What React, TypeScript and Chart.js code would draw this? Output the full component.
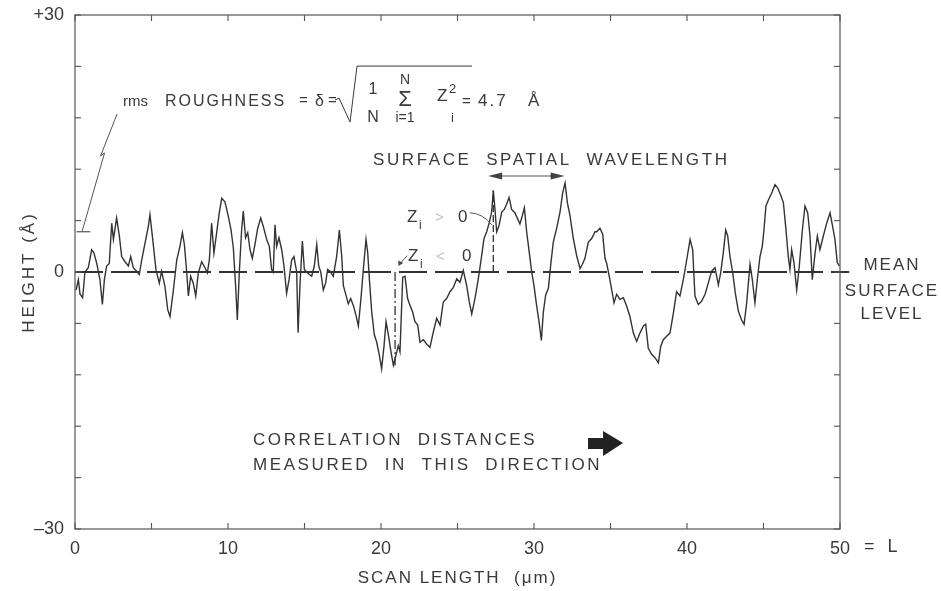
import React, { useEffect, useRef } from 'react';
import { Chart, registerables } from 'chart.js';

Chart.register(...registerables);

// ---------- data ----------
// scan position along the surface (µm)
const scanX: number[] = [
  0.07, 0.22, 0.33, 0.5, 0.65, 0.87, 1.09, 1.24, 1.42, 1.63, 1.79, 1.92, 2.07, 2.24, 2.4, 2.51, 2.72, 2.9, 3.05, 3.27,
  3.49, 3.64, 3.81, 4.03, 4.2, 4.36, 4.58, 4.79, 4.9, 5.08, 5.29, 5.51, 5.66, 5.88, 6.06, 6.21, 6.43, 6.65, 6.86, 7.02,
  7.15, 7.3, 7.41, 7.56, 7.73, 7.89, 8.06, 8.28, 8.5, 8.65, 8.78, 8.93, 9.08, 9.26, 9.43, 9.59, 9.8, 10.02, 10.2, 10.35,
  10.5, 10.61, 10.74, 10.89, 11.0, 11.15, 11.29, 11.44, 11.59, 11.76, 11.94, 12.14, 12.31, 12.53, 12.7, 12.85, 12.96, 13.07, 13.18, 13.33,
  13.51, 13.66, 13.83, 13.99, 14.16, 14.31, 14.49, 14.58, 14.71, 14.86, 14.99, 15.14, 15.32, 15.47, 15.64, 15.8, 15.93, 16.06, 16.23, 16.38,
  16.51, 16.67, 16.88, 17.1, 17.28, 17.43, 17.54, 17.71, 17.86, 18.02, 18.19, 18.37, 18.52, 18.69, 18.85, 19.02, 19.13, 19.24, 19.39, 19.56,
  19.72, 19.89, 20.04, 20.2, 20.33, 20.48, 20.65, 20.81, 21.13, 21.24, 21.42, 21.57, 21.74, 21.9, 22.07, 22.22, 22.4, 22.55, 22.77, 22.98,
  23.2, 23.42, 23.64, 23.86, 24.07, 24.29, 24.51, 24.73, 24.95, 25.16, 25.38, 25.6, 25.77, 25.93, 26.14, 26.36, 26.58, 26.73, 26.91, 27.08,
  27.23, 27.34, 27.45, 27.56, 27.71, 27.89, 28.06, 28.21, 28.37, 28.54, 28.76, 28.93, 29.08, 29.24, 29.37, 29.52, 29.69, 29.85, 30.0, 30.17,
  30.33, 30.48, 30.61, 30.76, 30.94, 31.09, 31.26, 31.48, 31.7, 31.87, 32.03, 32.18, 32.35, 32.57, 32.79, 33.01, 33.16, 33.33, 33.55, 33.77,
  33.99, 34.1, 34.31, 34.49, 34.64, 34.75, 34.92, 35.08, 35.23, 35.4, 35.62, 35.84, 36.06, 36.27, 36.49, 36.71, 36.93, 37.15, 37.3, 37.47,
  37.69, 37.91, 38.13, 38.28, 38.45, 38.67, 38.89, 39.11, 39.32, 39.54, 39.76, 39.98, 40.2, 40.37, 40.52, 40.74, 40.96, 41.18, 41.39, 41.61,
  41.83, 42.05, 42.2, 42.37, 42.53, 42.66, 42.81, 42.99, 43.16, 43.36, 43.57, 43.73, 43.9, 44.12, 44.27, 44.44, 44.62, 44.77, 44.92, 45.03,
  45.16, 45.32, 45.53, 45.75, 45.93, 46.12, 46.3, 46.47, 46.62, 46.73, 46.84, 46.99, 47.17, 47.34, 47.54, 47.71, 47.89, 48.04, 48.19, 48.37,
  48.52, 48.69, 48.91, 49.13, 49.35, 49.52, 49.67, 49.82, 49.97,
];

// surface height (Å)
const heightZ: number[] = [
  -2.1, -0.9, -2.6, -3.0, 0, 0.5, 2.6, 2.2, 1.0, -0.9, -3.8, -0.9, 0.7, 1.0, 5.7, 3.8, 6.3, 4.2, 1.8, 1.2,
  0.7, 1.8, 0.5, 0.1, -0.3, 1.4, 3.4, 5.3, 6.7, 3.8, 0.3, -1.3, 0.1, -1.7, -4.4, -5.2, -2.1, 1.4, 3.0, 4.6,
  3.2, 0, -2.8, -0.5, -1.3, -2.8, -0.1, 1.2, 0.5, -0.1, 1.4, 5.7, 2.2, 4.6, 6.9, 8.6, 8.2, 6.5, 4.9, 2.8,
  -1.7, -5.6, 0, 4.9, 7.1, 4.0, 4.6, 2.6, 1.6, 3.2, 5.1, 6.3, 5.3, 3.8, 3.0, 0.3, 0, 5.5, 3.0, 4.0,
  2.6, 0.7, -2.5, -0.9, 1.4, 1.8, 0, -7.1, -1.3, 3.6, 0.3, 0, -0.3, -0.5, 0.7, 3.2, 0.7, 0, -2.1, -1.3,
  0.3, 0.1, -0.5, 1.8, 4.9, 1.9, -1.6, -2.7, -3.7, -3.1, -3.9, -5.1, -6.3, -3.1, 0.4, 3.8, 2.3, -0.8, -4.6, -7.3,
  -8.2, -9.7, -11.3, -8.6, -5.8, -7.3, -9.3, -10.9, -8.6, -9.3, -0.6, -0.5, -3.1, -3.9, -4.7, -5.8, -6.2, -8.2, -7.9, -8.4,
  -8.8, -7.0, -5.4, -6.2, -3.5, -3.1, -2.3, -1.8, -0.8, -1.2, 0.2, -1.6, -3.5, -4.9, -3.1, -0.8, 1.9, 3.9, 4.7, 5.8,
  7.0, 9.5, 7.3, 4.7, 5.4, 7.0, 7.3, 7.9, 8.7, 7.3, 6.9, 6.2, 5.6, 6.6, 7.5, 4.7, 2.3, 0, -1.6, -3.9,
  -5.8, -8.0, -4.7, -2.7, -1.9, 0.8, 3.5, 5.1, 7.0, 9.2, 10.4, 8.1, 6.6, 3.9, 1.9, 0.4, 0.9, 1.6, 3.5, 3.9,
  4.7, 4.7, 5.1, 4.4, 1.6, 1.0, -0.5, -2.1, -3.6, -2.6, -3.2, -3.0, -4.0, -5.2, -7.1, -8.1, -7.1, -6.3, -6.1, -8.9,
  -9.6, -10.0, -10.6, -8.7, -7.9, -7.5, -7.1, -4.8, -2.3, -2.8, -0.9, 1.4, 3.8, 2.6, -2.8, -3.8, -3.4, -2.6, -1.3, 0.1,
  0.5, -1.5, -0.1, 2.2, 4.9, 4.2, 1.8, -0.1, -2.5, -4.6, -5.6, -6.1, -3.6, 0.9, -0.9, -3.6, -0.5, 1.8, 3.0, 4.9,
  7.7, 8.4, 9.2, 10.2, 9.8, 9.0, 8.1, 4.9, 1.8, 0.3, 2.6, 1.1, -2.1, 0.7, 4.9, 7.7, 6.9, 4.2, -0.9, 2.2,
  4.2, 2.6, 4.2, 5.7, 6.9, 5.3, 3.8, 1.1, 0.7,
];

const xLabelValues = [0, 10, 20, 30, 40, 50];
const xLabelTexts = ['0', '10', '20', '30', '40', '50'];
const yLabelValues = [30, 0, -30];
const yLabelTexts = ['+30', '0', '–30'];

const meanLevel = 0;
const meanLineX = [0, 50.6];
const rmsRoughness = 4.7;
const zPositiveX = 27.34; // Zi > 0 example
const zNegativeX = 20.92; // Zi < 0 example
const wavelengthSpan = [27.0, 32.0];
const wavelengthLevel = 11.2;

// ---------- drawing helpers ----------
const FONT = "'Liberation Sans', Arial, Helvetica, sans-serif";
const INK = '#3a3a3a';

function text(
  ctx: CanvasRenderingContext2D, s: string, x: number, y: number, size: number,
  align: CanvasTextAlign = 'left', baseline: CanvasTextBaseline = 'alphabetic',
  spacing = 0, color = INK, style = ''
) {
  ctx.save();
  ctx.font = `${style} ${size}px ${FONT}`;
  ctx.fillStyle = color;
  ctx.textAlign = align;
  ctx.textBaseline = baseline;
  (ctx as any).letterSpacing = spacing + 'px';
  ctx.fillText(s, x, y);
  ctx.restore();
}

function seg(ctx: CanvasRenderingContext2D, pts: number[][], width = 1, color = INK, dash: number[] = []) {
  ctx.save();
  ctx.beginPath();
  ctx.setLineDash(dash);
  ctx.lineWidth = width;
  ctx.strokeStyle = color;
  pts.forEach((p, i) => (i === 0 ? ctx.moveTo(p[0], p[1]) : ctx.lineTo(p[0], p[1])));
  ctx.stroke();
  ctx.restore();
}

function poly(ctx: CanvasRenderingContext2D, pts: number[][], color = INK) {
  ctx.save();
  ctx.beginPath();
  pts.forEach((p, i) => (i === 0 ? ctx.moveTo(p[0], p[1]) : ctx.lineTo(p[0], p[1])));
  ctx.closePath();
  ctx.fillStyle = color;
  ctx.fill();
  ctx.restore();
}

function heightAt(x: number) {
  let best = 0;
  scanX.forEach((v, i) => { if (Math.abs(v - x) < Math.abs(scanX[best] - x)) best = i; });
  return heightZ[best];
}

const annotations = {
  id: 'annotations',
  beforeDraw(chart: any) {
    const { ctx, width, height } = chart;
    ctx.save();
    ctx.fillStyle = '#ffffff';
    ctx.fillRect(0, 0, width, height);
    ctx.restore();
  },
  afterDraw(chart: any) {
    const { ctx, chartArea: a, scales } = chart;
    const xs = scales.x, ys = scales.y;
    const X = (v: number) => xs.getPixelForValue(v);
    const Y = (v: number) => ys.getPixelForValue(v);

    // frame
    ctx.save();
    ctx.strokeStyle = '#555';
    ctx.lineWidth = 1.2;
    ctx.strokeRect(a.left, a.top, a.right - a.left, a.bottom - a.top);
    ctx.restore();
    // inward tick marks
    xs.ticks.forEach((t: any) => {
      const p = X(t.value);
      seg(ctx, [[p, a.bottom], [p, a.bottom - 6]], 1.1, '#555');
      seg(ctx, [[p, a.top], [p, a.top + 6]], 1.1, '#555');
    });
    ys.ticks.forEach((t: any) => {
      const p = Y(t.value);
      seg(ctx, [[a.left, p], [a.left + 6, p]], 1.1, '#555');
      seg(ctx, [[a.right, p], [a.right - 6, p]], 1.1, '#555');
    });

    // axis titles
    ctx.save();
    ctx.translate(29, Y(0));
    ctx.rotate(-Math.PI / 2);
    text(ctx, 'HEIGHT (Å)', 0, 0, 17, 'center', 'middle', 3);
    ctx.restore();
    text(ctx, 'SCAN LENGTH  (μm)', (a.left + a.right) / 2, 578, 17, 'center', 'middle', 2);
    text(ctx, '=  L', X(50) + 24, 547, 18, 'left', 'middle', 1);

    // mean surface level label
    text(ctx, 'MEAN', X(53.4), Y(0.82), 17, 'center', 'middle', 2);
    text(ctx, 'SURFACE', X(53.4), Y(-2.22), 17, 'center', 'middle', 2);
    text(ctx, 'LEVEL', X(53.4), Y(-4.9), 17, 'center', 'middle', 2);

    // rms roughness formula
    const fx = X(3.14), fy = Y(19.37);
    text(ctx, 'rms', fx, fy, 15);
    text(ctx, 'ROUGHNESS', fx + 42, fy, 16, 'left', 'alphabetic', 2);
    text(ctx, '=', fx + 176, fy - 1, 15);
    text(ctx, 'δ', fx + 192, fy, 16);
    text(ctx, '=', fx + 205, fy - 1, 15);
    seg(ctx, [[fx + 212, fy - 6], [fx + 216, fy - 8], [fx + 227, fy + 16], [fx + 234, fy - 40], [fx + 349, fy - 40]], 1, INK);
    text(ctx, '1', fx + 250, fy - 12, 16, 'center');
    text(ctx, 'N', fx + 250, fy + 16, 16, 'center');
    text(ctx, 'N', fx + 282, fy - 22, 14, 'center');
    text(ctx, 'Σ', fx + 282, fy, 22, 'center');
    text(ctx, 'i=1', fx + 282, fy + 16, 14, 'center');
    text(ctx, 'Z', fx + 314, fy - 5, 17);
    text(ctx, '2', fx + 326, fy - 13, 13);
    text(ctx, 'i', fx + 328, fy + 16, 13);
    text(ctx, '=', fx + 339, fy, 15);
    text(ctx, String(rmsRoughness), fx + 355, fy, 17, 'left', 'alphabetic', 2);
    text(ctx, 'Å', fx + 405, fy, 17);

    // leader from the formula to the rms level on the height axis
    seg(ctx, [[X(2.75), Y(18.44)], [X(1.67), Y(13.54)], [X(1.93), Y(13.89)], [X(0.46), Y(rmsRoughness)]], 1, '#555');
    seg(ctx, [[X(0.1), Y(rmsRoughness)], [X(1.0), Y(rmsRoughness)]], 1.2, '#555');

    // surface spatial wavelength
    text(ctx, 'SURFACE  SPATIAL  WAVELENGTH', X(19.48), Y(13.07), 17, 'left', 'middle', 2.6);
    const wy = Y(wavelengthLevel), w0 = X(wavelengthSpan[0]), w1 = X(wavelengthSpan[1]);
    seg(ctx, [[w0 + 8, wy], [w1 - 8, wy]], 1.1, '#555');
    poly(ctx, [[w0, wy], [w0 + 14, wy - 3.5], [w0 + 14, wy + 3.5]], '#444');
    poly(ctx, [[w1, wy], [w1 - 14, wy - 3.5], [w1 - 14, wy + 3.5]], '#444');

    // Zi > 0 marker
    const zp = heightAt(zPositiveX);
    seg(ctx, [[X(zPositiveX), Y(meanLevel)], [X(zPositiveX), Y(zp)]], 1.3, '#333', [7, 3]);
    const gx = X(21.7), gy = Y(5.83);
    text(ctx, 'Z', gx, gy, 17);
    text(ctx, 'i', gx + 12, gy + 7, 12);
    text(ctx, '>', gx + 28, gy, 15, 'left', 'alphabetic', 0, '#bdbdbd');
    text(ctx, '0', gx + 51, gy, 17);
    ctx.save();
    ctx.beginPath();
    ctx.moveTo(X(25.8), Y(6.9));
    ctx.quadraticCurveTo(X(26.6), Y(6.9), X(27.25), Y(5.5));
    ctx.strokeStyle = '#555';
    ctx.lineWidth = 1;
    ctx.stroke();
    ctx.restore();

    // Zi < 0 marker
    const zn = heightAt(zNegativeX);
    seg(ctx, [[X(zNegativeX), Y(meanLevel)], [X(zNegativeX), Y(zn)]], 1.3, '#333', [9, 3, 2, 3]);
    const hx = X(21.76), hy = Y(1.28);
    text(ctx, 'Z', hx, hy, 17);
    text(ctx, 'i', hx + 12, hy + 7, 12);
    text(ctx, '<', hx + 28, hy, 15, 'left', 'alphabetic', 0, '#bdbdbd');
    text(ctx, '0', hx + 54, hy, 17);
    seg(ctx, [[X(21.72), Y(1.9)], [X(21.45), Y(1.4)], [X(21.2), Y(0.85)]], 1, '#555');
    poly(ctx, [[X(21.15), Y(0.7)], [X(21.12), Y(1.35)], [X(21.45), Y(1.05)]], '#444');

    // correlation direction
    text(ctx, 'CORRELATION  DISTANCES', X(11.63), Y(-19.6), 17, 'left', 'middle', 2.6);
    text(ctx, 'MEASURED  IN  THIS  DIRECTION', X(11.63), Y(-22.52), 17, 'left', 'middle', 2.6);
    const ay = Y(-19.95), at0 = X(33.53), at1 = X(35.82);
    poly(ctx, [
      [at0, ay - 5], [at1 - 20, ay - 5], [at1 - 20, ay - 12], [at1, ay],
      [at1 - 20, ay + 13], [at1 - 20, ay + 6], [at0, ay + 6],
    ], '#222');
  },
};

export default function App() {
  const ref = useRef<HTMLCanvasElement>(null);

  useEffect(() => {
    const profile = scanX.map((x, i) => ({ x, y: heightZ[i] }));
    const mean = meanLineX.map((x) => ({ x, y: meanLevel }));
    const chart = new Chart(ref.current as HTMLCanvasElement, {
      type: 'line',
      data: {
        datasets: [
          {
            label: 'Surface height',
            data: profile,
            borderColor: '#333333',
            borderWidth: 1.4,
            pointRadius: 0,
            tension: 0,
            order: 0,
          },
          {
            label: 'Mean surface level',
            data: mean,
            borderColor: '#333',
            borderWidth: 1.8,
            borderDash: [28, 8],
            pointRadius: 0,
            clip: false as any,
            order: 1,
          },
        ],
      },
      options: {
        animation: false,
        responsive: false,
        devicePixelRatio: 1,
        events: [],
        layout: { padding: { top: 15, right: 101, bottom: 0, left: 0 } },
        plugins: { legend: { display: false }, tooltip: { enabled: false } },
        scales: {
          x: {
            type: 'linear',
            min: 0,
            max: 50,
            grid: { display: false },
            border: { display: false },
            afterFit: (s: any) => { s.height = 62; },
            ticks: {
              stepSize: 5,
              autoSkip: false,
              maxRotation: 0,
              padding: 1,
              color: INK,
              font: { family: FONT, size: 18 },
              callback: (v: any) => {
                const i = xLabelValues.findIndex((t) => Math.abs(t - Number(v)) < 1e-6);
                return i >= 0 ? xLabelTexts[i] : '';
              },
            },
          },
          y: {
            type: 'linear',
            min: -30,
            max: 30,
            grid: { display: false },
            border: { display: false },
            afterFit: (s: any) => { s.width = 75; },
            ticks: {
              stepSize: 6,
              autoSkip: false,
              padding: 3,
              color: INK,
              font: { family: FONT, size: 18 },
              callback: (v: any) => {
                const i = yLabelValues.findIndex((t) => Math.abs(t - Number(v)) < 1e-6);
                return i >= 0 ? yLabelTexts[i] : '';
              },
            },
          },
        },
      },
      plugins: [annotations],
    });
    return () => chart.destroy();
  }, []);

  return (
    <div style={{ position: 'fixed', left: 0, top: 0, width: 941, height: 591, background: '#fff' }}>
      <canvas ref={ref} width={941} height={591} style={{ display: 'block', width: 941, height: 591 }} />
    </div>
  );
}
